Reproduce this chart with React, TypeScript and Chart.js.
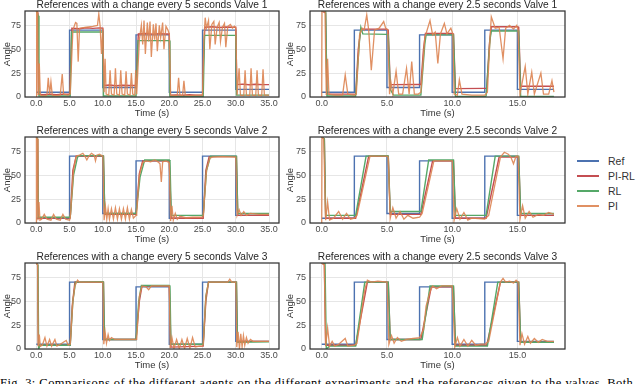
import React, { useEffect, useRef } from "react";
import { Chart, registerables } from "chart.js";
Chart.register(...registerables);

type Pair = [number, number];
const FONT = "'Liberation Sans', Arial, Helvetica, sans-serif";

const seriesNames = ["Ref", "PI-RL", "RL", "PI"];
const seriesColors = ["#4C72B0", "#C44E52", "#55A868", "rgba(221,132,82,0.9)"];

const xTicksSlow = [0, 5, 10, 15, 20, 25, 30, 35];
const xTicksFast = [0, 5, 10, 15];
const yTicks = [0, 25, 50, 75];

const refSlow: Pair[] = [[0, 5], [5, 5], [5, 70], [10, 70], [10, 10], [15, 10], [15, 65], [20, 65], [20, 5], [25, 5], [25, 70], [30, 70], [30, 8], [35, 8]];
const refFast: Pair[] = [[0, 5], [2.5, 5], [2.5, 70], [5, 70], [5, 10], [7.5, 10], [7.5, 65], [10, 65], [10, 5], [12.5, 5], [12.5, 70], [15, 70], [15, 8], [17.8, 8]];

// Valve 1, every 5 s
const v1SlowPIRL: Pair[] = [[0, 90], [0.25, 88], [0.35, 3], [1, 2.5], [2, 3], [3, 2.5], [4, 3], [5, 2.8], [5.15, 30], [5.35, 72], [6.5, 71.5], [7.5, 72.5], [8.5, 71.8], [9.5, 72.3], [10, 72], [10.15, 12], [11, 12.5], [12, 11.8], [13, 12.3], [14, 12], [15, 12.2], [15.15, 40], [15.35, 66], [16.5, 66.5], [17.5, 65.8], [18.5, 66.3], [19.5, 66], [20, 66], [20.15, 2], [21, 2.2], [22, 1.8], [23, 2.3], [24, 2], [25, 2], [25.15, 40], [25.35, 73], [26.5, 73.5], [27.5, 72.8], [28.5, 73.3], [29.5, 73], [30, 73], [30.15, 13], [31, 13.5], [32, 12.8], [33, 13.3], [34, 13], [35, 13]];
const v1SlowRL: Pair[] = [[0, 90], [0.3, 85], [0.4, 1], [5, 1], [5.1, 1], [5.3, 68], [10, 68], [10.1, 1], [15, 1], [15.1, 1], [15.3, 59], [20, 59], [20.1, 0.5], [25, 0.5], [25.1, 0.5], [25.3, 64.5], [30, 64.5], [30.1, 2], [35, 2]];
const v1SlowPI: Pair[] = [[0, 0], [0.05, 90], [0.2, 90], [0.3, 2], [0.45, 35], [0.6, 2], [1.2, 1], [1.6, 2], [1.8, 20], [2.0, 3], [2.2, 16], [2.4, 2], [3, 1.5], [3.6, 2], [3.9, 24], [4.1, 3], [4.8, 2], [5.1, 3], [5.5, 70], [5.9, 78], [6.1, 77], [6.3, 37], [6.5, 72], [7.5, 73], [8.5, 74], [9.2, 75], [9.4, 87], [9.6, 74], [9.8, 45], [10, 72], [10.2, 5], [10.35, 40], [10.5, 3], [10.9, 2], [11.1, 28], [11.3, 3], [11.7, 2], [11.9, 30], [12.1, 3], [12.5, 2], [12.7, 28], [12.9, 3], [13.3, 2], [13.5, 27], [13.7, 3], [14.1, 2], [14.3, 25], [14.5, 3], [14.8, 2], [14.95, 28], [15.1, 3], [15.5, 60], [15.8, 75], [16.0, 55], [16.2, 80], [16.4, 45], [16.7, 78], [16.9, 58], [17.1, 79], [17.3, 42], [17.6, 76], [17.8, 60], [18.0, 77], [18.2, 48], [18.5, 75], [18.7, 62], [19.0, 78], [19.2, 50], [19.5, 74], [19.8, 70], [20, 66], [20.2, 2], [20.8, 1.5], [21.2, 2], [21.4, 20], [21.6, 2], [22, 1.5], [22.2, 17], [22.4, 2], [23, 1.5], [24, 2], [25, 2], [25.2, 60], [25.4, 83], [25.6, 72], [25.9, 80], [26.1, 50], [26.4, 76], [26.7, 79], [26.9, 55], [27.2, 73], [27.5, 78], [27.7, 58], [28.0, 73], [28.3, 77], [28.5, 52], [28.8, 74], [29.2, 76], [29.5, 72], [29.8, 74], [30, 72], [30.2, 2], [30.5, 30], [30.7, 2], [31.2, 1.5], [31.4, 28], [31.6, 2], [32.1, 1.5], [32.3, 30], [32.5, 2], [33, 1.5], [33.2, 28], [33.4, 2], [33.9, 1.5], [34.1, 29], [34.3, 2], [35, 2]];

// Valve 1, every 2.5 s
const v1FastPIRL: Pair[] = [[0, 90], [0.3, 88], [0.4, 3], [2.5, 3], [2.6, 3], [2.8, 50], [3.0, 71], [5, 71], [5.1, 70], [5.25, 13], [7.5, 13.2], [7.6, 13], [7.8, 50], [7.95, 66.5], [10, 66.5], [10.1, 66], [10.25, 8.8], [12.5, 9], [12.65, 9], [12.85, 55], [13.0, 73.5], [15, 73.5], [15.1, 73], [15.25, 11.3], [17.8, 11.3]];
const v1FastRL: Pair[] = [[0, 90], [0.3, 90], [0.4, 1], [2.5, 1], [2.6, 1], [2.9, 60], [3.0, 73], [3.15, 66], [5, 65.5], [5.1, 65], [5.25, 8], [5.5, 2], [7.5, 2], [7.6, 2], [7.9, 55], [8.0, 65], [10, 65], [10.1, 65], [10.25, 0.5], [12.5, 0.5], [12.6, 1], [12.9, 60], [13.0, 69], [15, 69], [15.1, 69], [15.25, 0.5], [17.8, 0.5]];
const v1FastPI: Pair[] = [[0, 0], [0.02, 90], [0.25, 90], [0.35, 2], [0.45, 40], [0.55, 3], [1, 2], [1.6, 2], [1.8, 23], [2.0, 3], [2.5, 2], [2.65, 3], [2.9, 65], [3.1, 72], [3.25, 70], [3.45, 86], [3.6, 70], [3.8, 28], [4.05, 70], [4.4, 72], [4.75, 79], [4.9, 72], [5.05, 70], [5.2, 3], [5.3, 16], [5.45, 3], [5.7, 27], [5.9, 3], [6.2, 3], [6.5, 30], [6.7, 3], [6.9, 37], [7.1, 3], [7.4, 3], [7.6, 5], [7.9, 62], [8.3, 80], [8.5, 65], [8.7, 68], [8.9, 35], [9.1, 66], [9.4, 77], [9.6, 66], [9.9, 72], [10.05, 66], [10.15, 3], [10.4, 2], [10.55, 18], [10.75, 3], [11.5, 2], [12.5, 2], [12.7, 5], [12.9, 62], [13.0, 84], [13.3, 72], [13.6, 73], [13.9, 40], [14.1, 72], [14.4, 75], [14.7, 71], [14.95, 75], [15.05, 70], [15.2, 3], [15.6, 32], [15.8, 3], [16.1, 26], [16.3, 3], [16.8, 25], [17.0, 3], [17.4, 3], [17.65, 17], [17.8, 5]];

// Valve 2, every 5 s
const v2SlowPIRL: Pair[] = [[0, 90], [0.2, 88], [0.3, 5], [5, 5.5], [5.1, 5.5], [5.5, 55], [6, 70], [10, 70], [10.1, 70], [10.3, 9], [15, 9], [15.1, 9], [15.5, 52], [16, 65], [20, 65], [20.1, 65], [20.3, 5], [25, 5], [25.1, 5], [25.5, 55], [26, 69.5], [30, 69.5], [30.1, 69.5], [30.3, 8], [35, 8]];
const v2SlowRL: Pair[] = [[0, 90], [0.2, 88], [0.3, 6], [5, 6], [5.1, 6], [5.6, 50], [6.2, 69], [6.5, 70.5], [10, 70.5], [10.1, 70], [10.3, 10], [15, 10], [15.1, 10], [15.6, 48], [16.3, 66], [20, 66], [20.1, 65], [20.3, 8], [25, 8], [25.1, 8], [25.6, 55], [26.2, 70], [30, 70], [30.1, 70], [30.3, 10], [35, 10]];
const v2SlowPI: Pair[] = [[0, 0], [0.02, 90], [0.15, 88], [0.25, 3], [0.4, 22], [0.55, 3], [0.8, 4], [1.2, 9], [1.6, 4], [2.2, 3], [2.6, 9], [3.0, 4], [3.6, 3], [4.0, 9], [4.4, 4], [5.0, 3], [5.1, 5], [5.6, 55], [6.0, 70], [6.5, 71], [7.0, 73], [7.3, 70], [7.6, 66], [7.9, 70], [8.3, 73], [8.7, 71], [8.9, 65], [9.1, 71], [9.5, 72], [10, 70], [10.2, 3], [10.4, 17], [10.6, 4], [10.8, 15], [11.0, 4], [11.3, 15], [11.6, 4], [11.9, 16], [12.2, 4], [12.5, 15], [12.8, 4], [13.1, 15], [13.4, 4], [13.7, 16], [14.0, 4], [14.3, 14], [14.6, 5], [15.0, 8], [15.1, 10], [15.5, 50], [16.0, 63], [16.5, 65], [17.2, 64], [17.8, 66], [18.3, 64], [18.6, 62], [18.8, 43], [19.0, 64], [19.5, 65], [20.0, 63], [20.2, 2], [20.4, 18], [20.6, 3], [20.9, 10], [21.2, 4], [21.6, 7], [22.5, 5.5], [23.5, 6], [25.0, 6], [25.1, 7], [25.6, 55], [26.1, 68], [26.5, 69], [28, 69.5], [30, 69], [30.2, 8], [30.5, 14], [30.8, 8], [31.2, 12], [31.6, 8], [32.2, 10], [33.5, 9], [35, 9]];

// Valve 2, every 2.5 s
const v2FastPIRL: Pair[] = [[0, 90], [0.2, 88], [0.3, 5], [2.5, 5], [2.6, 5], [3.6, 70], [5, 70], [5.1, 70], [5.25, 9], [7.5, 9], [7.6, 9], [8.5, 65], [10, 65], [10.1, 65], [10.25, 5], [12.5, 5], [12.6, 5], [13.6, 69], [15, 69], [15.1, 69], [15.25, 8], [17.8, 8]];
const v2FastRL: Pair[] = [[0, 90], [0.2, 88], [0.3, 8], [2.5, 8], [2.6, 8], [3.4, 70], [5, 70.5], [5.1, 70], [5.25, 12], [7.5, 12], [7.6, 12], [8.2, 66], [10, 66], [10.1, 66], [10.25, 8], [12.5, 8], [12.6, 8], [13.3, 70], [15, 70], [15.1, 70], [15.25, 10], [17.8, 10]];
const v2FastPI: Pair[] = [[0, 0], [0.02, 90], [0.15, 88], [0.3, 3], [0.45, 22], [0.6, 3], [0.9, 5], [1.3, 12], [1.6, 4], [1.9, 10], [2.2, 4], [2.5, 5], [2.7, 8], [3.7, 70], [5.0, 70], [5.1, 69], [5.25, 5], [5.45, 16], [5.7, 5], [6.0, 12], [6.3, 4], [6.6, 8], [7.0, 5], [7.5, 6], [7.7, 10], [8.6, 65], [10.0, 65], [10.15, 3], [10.35, 15], [10.6, 4], [10.9, 11], [11.2, 3], [11.5, 5], [12.5, 4], [12.8, 8], [13.7, 69], [14.0, 74], [14.3, 72], [14.5, 69], [14.7, 62], [14.9, 70], [15.05, 70], [15.2, 4], [15.4, 18], [15.6, 5], [15.9, 12], [16.2, 6], [16.6, 9], [17.0, 8], [17.4, 11], [17.8, 9]];

// Valve 3, every 5 s
const v3SlowPIRL: Pair[] = [[0, 90], [0.2, 88], [0.3, 4], [5, 4], [5.1, 4], [5.4, 45], [5.8, 70], [10, 70], [10.1, 70], [10.25, 10], [15, 10], [15.1, 10], [15.5, 50], [15.9, 66], [20, 66], [20.1, 66], [20.25, 2], [25, 3], [25.1, 3], [25.5, 50], [25.9, 70], [30, 70], [30.1, 70], [30.25, 8], [35, 8]];
const v3SlowRL: Pair[] = [[0, 90], [0.25, 88], [0.35, 0], [0.6, 4], [5, 4], [5.1, 4], [5.5, 50], [5.9, 70], [10, 70.5], [10.1, 70], [10.25, 10], [15, 10], [15.1, 10], [15.4, 50], [15.8, 66.5], [20, 66.5], [20.1, 66], [20.25, 5], [25, 5], [25.1, 5], [25.5, 55], [25.9, 70], [30, 70], [30.1, 70], [30.25, 7], [35, 7.5]];
const v3SlowPI: Pair[] = [[0, 90], [0.2, 88], [0.3, 3], [0.45, 15], [0.6, 3], [0.9, 4], [1.3, 12], [1.6, 3], [2.0, 10], [2.3, 3], [2.8, 10], [3.1, 3], [3.6, 5], [4.5, 9], [4.8, 4], [5.1, 5], [5.5, 50], [5.8, 66], [6.2, 72], [6.5, 70], [10, 70], [10.15, 5], [10.35, 18], [10.55, 6], [10.8, 15], [11.0, 9], [11.3, 12], [11.8, 10], [15.0, 10], [15.1, 11], [15.5, 55], [15.9, 66], [16.5, 65], [16.9, 62], [17.3, 66], [18, 66], [20, 66], [20.15, 1], [20.4, 12], [20.7, 0.5], [21.1, 10], [21.5, 0.5], [21.9, 10], [22.3, 0.5], [22.7, 11], [23.1, 1], [23.5, 12], [23.9, 2], [24.5, 3], [25, 3], [25.1, 5], [25.5, 55], [25.9, 70], [27, 70], [28.8, 70], [29.1, 73], [29.4, 70], [30, 70], [30.15, 2], [30.35, 18], [30.55, 0], [30.75, 16], [30.95, 2], [31.15, 14], [31.35, 4], [31.6, 12], [31.85, 6], [32.2, 10], [32.6, 8], [35, 8]];

// Valve 3, every 2.5 s
const v3FastPIRL: Pair[] = [[0, 90], [0.2, 88], [0.3, 4], [2.5, 4], [2.6, 4], [3.5, 70], [5, 70], [5.1, 70], [5.25, 10], [7.5, 10], [7.6, 10], [8.4, 65], [10, 65], [10.1, 65], [10.25, 4], [12.5, 4], [12.65, 4], [13.7, 70], [15, 70], [15.1, 70], [15.25, 7], [17.8, 7]];
const v3FastRL: Pair[] = [[0, 90], [0.25, 90], [0.35, 0], [0.6, 3], [2.5, 3], [2.6, 3], [3.3, 70], [5, 70], [5.1, 70], [5.25, 10], [7.5, 10], [7.7, 10], [8.3, 66], [10, 66], [10.1, 66], [10.25, 3], [12.5, 3], [12.7, 3], [13.5, 70], [15, 70], [15.1, 70], [15.25, 7], [17.8, 7]];
const v3FastPI: Pair[] = [[0, 90], [0.2, 88], [0.3, 3], [0.45, 22], [0.6, 3], [0.8, 8], [1.0, 3], [1.3, 5], [1.8, 11], [2.0, 3], [2.5, 4], [2.7, 6], [3.3, 62], [3.5, 72], [3.8, 70], [4.3, 71], [5.0, 70], [5.15, 5], [5.35, 14], [5.55, 6], [5.8, 12], [6.1, 8], [6.5, 10], [7.0, 11], [7.5, 12], [7.8, 20], [8.0, 45], [8.3, 60], [8.5, 66], [8.8, 63], [9.2, 66], [10, 66], [10.2, 2], [10.4, 12], [10.6, 3], [10.9, 10], [11.2, 3], [11.5, 9], [11.8, 4], [12.2, 5], [12.5, 5], [12.8, 8], [13.7, 70], [13.9, 74], [14.1, 70], [14.4, 71], [14.7, 69], [14.9, 72], [15.05, 70], [15.2, 4], [15.35, 16], [15.55, 5], [15.8, 13], [16.0, 6], [16.3, 11], [16.6, 7], [16.9, 10], [17.3, 8], [17.8, 8]];

const titles = [
  "References with a change every 5 seconds Valve 1",
  "References with a change every 2.5 seconds Valve 1",
  "References with a change every 5 seconds Valve 2",
  "References with a change every 2.5 seconds Valve 2",
  "References with a change every 5 seconds Valve 3",
  "References with a change every 2.5 seconds Valve 3",
];

type PanelProps = {
  left: number;
  top: number;
  title: string;
  xMin: number;
  xMax: number;
  xTicks: number[];
  padRight: number;
  angleOffset: number;
  lines: Pair[][];
};

function Panel(p: PanelProps) {
  const ref = useRef<HTMLCanvasElement>(null);
  useEffect(() => {
    const framePlugin = {
      id: "frame",
      afterDraw(chart: any) {
        const { ctx, chartArea: a } = chart;
        ctx.save();
        ctx.strokeStyle = "#333333";
        ctx.lineWidth = 1.25;
        ctx.strokeRect(a.left, a.top, a.right - a.left, a.bottom - a.top);
        ctx.fillStyle = "#262626";
        ctx.font = `10.2px ${FONT}`;
        ctx.textAlign = "center";
        ctx.textBaseline = "middle";
        ctx.fillText(p.title, (a.left + a.right) / 2, a.top - 6);
        ctx.restore();
      },
    };
    const widths = [1.4, 1.4, 1.4, 1.3];
    const orders = [3, 2, 1, 0];
    const chart = new Chart(ref.current!, {
      type: "line",
      data: {
        datasets: p.lines.map((d, i) => ({
          label: seriesNames[i],
          data: d.map(([x, y]) => ({ x, y })),
          borderColor: seriesColors[i],
          backgroundColor: seriesColors[i],
          borderWidth: widths[i],
          pointRadius: 0,
          tension: 0,
          fill: false,
          order: orders[i],
        })),
      },
      options: {
        animation: false,
        responsive: false,
        maintainAspectRatio: false,
        layout: { padding: { top: 11, right: p.padRight, left: 0, bottom: 0 } },
        plugins: { legend: { display: false }, tooltip: { enabled: false }, title: { display: false } },
        scales: {
          x: {
            type: "linear",
            min: p.xMin,
            max: p.xMax,
            afterBuildTicks: (s: any) => {
              s.ticks = p.xTicks.map((v) => ({ value: v }));
            },
            afterFit: (s: any) => {
              s.height = 24;
            },
            grid: { color: "#e6e6e6", drawTicks: false, lineWidth: 1 },
            border: { display: false },
            ticks: {
              padding: 1,
              autoSkip: false,
              maxRotation: 0,
              color: "#4a4a4a",
              font: { family: FONT, size: 9 },
              callback: (v: any) => Number(v).toFixed(1),
            },
            title: {
              display: true,
              text: "Time (s)",
              color: "#333333",
              font: { family: FONT, size: 9.5 },
              padding: { top: 0, bottom: 2 },
            },
          },
          y: {
            type: "linear",
            min: 0,
            max: 90,
            afterBuildTicks: (s: any) => {
              s.ticks = yTicks.map((v) => ({ value: v }));
            },
            afterFit: (s: any) => {
              s.width = 25;
            },
            grid: { color: "#e6e6e6", drawTicks: false, lineWidth: 1 },
            border: { display: false },
            ticks: {
              padding: 4,
              color: "#4a4a4a",
              font: { family: FONT, size: 9 },
            },
            title: {
              display: true,
              text: "Angle",
              color: "#333333",
              font: { family: FONT, size: 9.5 },
              padding: { top: p.angleOffset, bottom: 0 },
            },
          },
        },
      },
      plugins: [framePlugin],
    } as any);
    return () => chart.destroy();
  }, []);
  return (
    <canvas
      ref={ref}
      width={285}
      height={121}
      style={{ position: "absolute", left: p.left, top: p.top, width: 285, height: 121 }}
    />
  );
}

export default function App() {
  const rowTops = [0, 126, 252];
  const slowLines = [
    [refSlow, v1SlowPIRL, v1SlowRL, v1SlowPI],
    [refSlow, v2SlowPIRL, v2SlowRL, v2SlowPI],
    [refSlow, v3SlowPIRL, v3SlowRL, v3SlowPI],
  ];
  const fastLines = [
    [refFast, v1FastPIRL, v1FastRL, v1FastPI],
    [refFast, v2FastPIRL, v2FastRL, v2FastPI],
    [refFast, v3FastPIRL, v3FastRL, v3FastPI],
  ];
  const legendTops = [161, 176, 191, 206];
  return (
    <div style={{ position: "absolute", left: 0, top: 0, width: 640, height: 384, overflow: "hidden", background: "#fff" }}>
      {rowTops.map((t, r) => (
        <React.Fragment key={r}>
          <Panel left={0} top={t} title={titles[r * 2]} xMin={-1.7} xMax={36.5} xTicks={xTicksSlow} padRight={6} angleOffset={2} lines={slowLines[r]} />
          <Panel left={285} top={t} title={titles[r * 2 + 1]} xMin={-0.9} xMax={18.65} xTicks={xTicksFast} padRight={5} angleOffset={0} lines={fastLines[r]} />
        </React.Fragment>
      ))}
      {seriesNames.map((n, i) => (
        <React.Fragment key={n}>
          <div style={{ position: "absolute", left: 577, top: legendTops[i] - 1, width: 22, height: 2, background: seriesColors[i] }} />
          <div style={{ position: "absolute", left: 608, top: legendTops[i] - 7, fontFamily: FONT, fontSize: 10.5, lineHeight: "14px", color: "#333" }}>{n}</div>
        </React.Fragment>
      ))}
      <div style={{ position: "absolute", left: 0, top: 376, whiteSpace: "nowrap", fontFamily: "'Liberation Serif', 'Times New Roman', serif", fontSize: 12.5, lineHeight: "14px", color: "#000", letterSpacing: 0.45 }}>
        Fig. 3: Comparisons of the different agents on the different experiments and the references given to the valves. Both
      </div>
    </div>
  );
}
